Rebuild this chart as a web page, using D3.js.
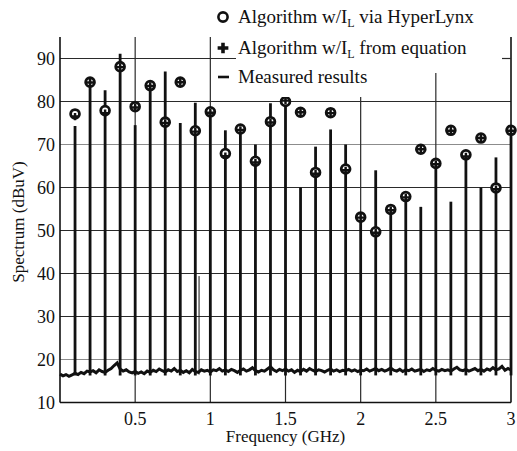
<!DOCTYPE html>
<html>
<head>
<meta charset="utf-8">
<script src="https://cdn.jsdelivr.net/npm/d3@7"></script>
<style>
  body { margin: 0; background: #fff; }
</style>
</head>
<body>
<div id="chart"></div>
<script>
// harmonics of the clock, GHz
let harmonics = [0.1, 0.2, 0.3, 0.4, 0.5, 0.6, 0.7, 0.8, 0.9, 1.0,
  1.1, 1.2, 1.3, 1.4, 1.5, 1.6, 1.7, 1.8, 1.9, 2.0,
  2.1, 2.2, 2.3, 2.4, 2.5, 2.6, 2.7, 2.8, 2.9, 3.0];

// measured peak at each harmonic (dBuV)
let measured = [74.3, 84.5, 82.6, 91.1, 74.5, 83.5, 87.0, 75.0, 79.7, 77.0,
  73.3, 74.0, 70.0, 79.6, 80.0, 60.0, 69.5, 73.5, 70.0, 52.0,
  64.0, 54.5, 57.5, 55.5, 65.5, 56.7, 67.0, 60.0, 67.0, 73.0];

// algorithm w/ IL via HyperLynx (circles)
let viaHyperLynx = [77.1, 84.5, 77.9, 88.1, 78.8, 83.7, 75.2, 84.5, 73.2, 77.6,
  67.9, 73.6, 66.1, 75.3, 80.0, 77.5, 63.5, 77.4, 64.3, 53.1,
  49.7, 54.9, 57.9, 68.9, 65.6, 73.3, 67.6, 71.5, 59.9, 73.3];

// algorithm w/ IL from equation (plus)
let fromEquation = [76.5, 84.4, 77.3, 88.0, 78.6, 83.6, 75.0, 84.5, 73.0, 77.4,
  67.3, 73.4, 65.8, 75.1, 80.2, 77.5, 63.2, 77.3, 64.0, 53.0,
  49.5, 54.7, 57.7, 68.9, 65.4, 73.2, 67.2, 71.5, 59.6, 73.2];

// small spur in the measurement
let spurFreq = [0.925];
let spurLevel = [39.4];

// noise floor, one value every 0.02 GHz from 0 to 3 GHz
let noiseStep = 0.02;
let noiseFloor = [16.6, 16.2, 16.5, 16.1, 16.4, 16.8,
  16.5, 17.0, 16.7, 17.3, 17.1,
  17.4, 16.9, 17.6, 17.2, 17.0,
  17.5, 17.9, 18.6, 19.2, 17.8,
  17.3, 17.6, 17.1, 16.9, 17.2,
  16.8, 17.1, 16.7, 17.3, 17.0,
  17.5, 17.2, 17.8, 17.4, 17.1,
  17.6, 17.3, 17.9, 17.2, 17.5,
  17.0, 17.4, 16.9, 17.7, 17.2,
  17.0, 17.6, 17.3, 17.5, 17.1,
  17.6, 17.4, 17.9, 17.3, 17.6,
  17.2, 17.7, 17.4, 17.0, 17.5,
  17.8, 17.3, 17.6, 18.1, 17.4,
  17.1, 17.5, 17.3, 17.8, 18.3,
  17.6, 17.2, 17.7, 17.4, 17.8,
  17.3, 17.6, 17.0, 17.5, 17.2,
  17.7, 17.3, 17.9, 17.5, 17.2,
  17.6, 17.4, 17.1, 17.5, 17.8,
  17.3, 17.6, 17.2, 17.5, 17.4,
  17.7, 17.3, 17.6, 17.2, 17.5,
  17.4, 17.8, 17.3, 17.6, 17.9,
  17.4, 17.7, 17.3, 17.6, 18.0,
  17.5, 17.3, 17.7, 17.2, 17.6,
  17.4, 17.8, 17.3, 17.5, 17.7,
  17.2, 17.6, 17.4, 17.9, 17.5,
  17.3, 17.7, 17.4, 17.6, 17.3,
  17.8, 18.2, 17.6, 17.4, 17.7,
  17.3, 17.6, 17.9, 17.4, 17.7,
  17.3, 17.8, 17.5, 18.1, 17.6,
  17.8, 18.4, 17.5, 17.9, 17.6];

let xTicks = [0.5, 1, 1.5, 2, 2.5, 3];
let xTickLabels = ['0.5', '1', '1.5', '2', '2.5', '3'];
let yTicks = [10, 20, 30, 40, 50, 60, 70, 80, 90];

let serif = 'Liberation Serif, DejaVu Serif, Times New Roman, Times, serif';

let width = 517;
let height = 451;
let margin = { top: 37, right: 6, bottom: 48.5, left: 60 };
let innerW = width - margin.left - margin.right;
let innerH = height - margin.top - margin.bottom;

let svg = d3.select('#chart')
  .append('svg')
  .attr('width', width)
  .attr('height', height);

let g = svg.append('g')
  .attr('transform', 'translate(' + margin.left + ',' + margin.top + ')');

let x = d3.scaleLinear().domain([0, 3]).range([0, innerW]);
let y = d3.scaleLinear().domain([10, 95]).range([innerH, 0]);

// horizontal grid (20 and 70 print lighter in the original)
g.append('g')
  .selectAll('line')
  .data(yTicks.filter(d => d > 10))
  .enter().append('line')
  .attr('x1', 0)
  .attr('x2', innerW)
  .attr('y1', d => y(d))
  .attr('y2', d => y(d))
  .attr('stroke', d => (d === 20 || d === 70) ? '#8c8c8c' : '#2a2a2a')
  .attr('stroke-width', 1.2);

// vertical grid
g.append('g')
  .selectAll('line')
  .data(xTicks.filter(d => d < 3))
  .enter().append('line')
  .attr('x1', d => x(d))
  .attr('x2', d => x(d))
  .attr('y1', 0)
  .attr('y2', innerH)
  .attr('stroke', '#2a2a2a')
  .attr('stroke-width', 1.2);

// noise floor trace
let noise = noiseFloor.map((v, i) => [i * noiseStep, v]);
g.append('path')
  .datum(noise)
  .attr('fill', 'none')
  .attr('stroke', '#111')
  .attr('stroke-width', 3)
  .attr('stroke-linejoin', 'miter')
  .attr('d', d3.line().x(d => x(d[0])).y(d => y(d[1])));

// measured spectral lines
g.append('g')
  .selectAll('line')
  .data(harmonics)
  .enter().append('line')
  .attr('x1', d => x(d))
  .attr('x2', d => x(d))
  .attr('y1', y(16.3))
  .attr('y2', (d, i) => y(measured[i]))
  .attr('stroke', '#111')
  .attr('stroke-width', 2.8);

g.append('g')
  .selectAll('line')
  .data(spurFreq)
  .enter().append('line')
  .attr('x1', d => x(d))
  .attr('x2', d => x(d))
  .attr('y1', y(16.5))
  .attr('y2', (d, i) => y(spurLevel[i]))
  .attr('stroke', '#111')
  .attr('stroke-width', 1);

// HyperLynx circles
g.append('g')
  .selectAll('circle')
  .data(harmonics)
  .enter().append('circle')
  .attr('cx', d => x(d))
  .attr('cy', (d, i) => y(viaHyperLynx[i]))
  .attr('r', 4.4)
  .attr('fill', '#fff')
  .attr('stroke', '#111')
  .attr('stroke-width', 2.8);

// equation plus marks
let plus = d3.symbol().type(d3.symbolCross).size(30);
g.append('g')
  .selectAll('path')
  .data(harmonics)
  .enter().append('path')
  .attr('d', plus)
  .attr('transform', (d, i) => 'translate(' + x(d) + ',' + y(fromEquation[i]) + ')')
  .attr('fill', '#111');

// legend, printed on white over the grid
let legend = svg.append('g');
legend.append('rect')
  .attr('x', 236).attr('y', 0)
  .attr('width', 266).attr('height', 73)
  .attr('fill', '#fff');
legend.append('rect')
  .attr('x', 236).attr('y', 73)
  .attr('width', 150).attr('height', 24)
  .attr('fill', '#fff');

let rows = [
  { y: 17, pre: 'Algorithm w/I', sub: 'L', post: ' via HyperLynx' },
  { y: 48, pre: 'Algorithm w/I', sub: 'L', post: ' from equation' },
  { y: 77, pre: 'Measured results', sub: '', post: '' }
];

legend.append('circle')
  .attr('cx', 223).attr('cy', rows[0].y)
  .attr('r', 4.6)
  .attr('fill', 'none')
  .attr('stroke', '#111')
  .attr('stroke-width', 2.6);
legend.append('path')
  .attr('d', d3.symbol().type(d3.symbolCross).size(64))
  .attr('transform', 'translate(223,' + rows[1].y + ')')
  .attr('fill', '#111');
legend.append('line')
  .attr('x1', 218).attr('x2', 229)
  .attr('y1', rows[2].y).attr('y2', rows[2].y)
  .attr('stroke', '#111')
  .attr('stroke-width', 2.6);

rows.forEach(r => {
  let t = legend.append('text')
    .attr('x', 238)
    .attr('y', r.y + 6)
    .attr('font-family', serif)
    .attr('font-size', 19)
    .attr('fill', '#111');
  t.append('tspan').text(r.pre);
  if (r.sub) {
    t.append('tspan').attr('font-size', 12).attr('dy', 4).text(r.sub);
    t.append('tspan').attr('dy', -4).text(r.post);
  }
});

// axes frame: left, bottom, right
g.append('line')
  .attr('x1', 0).attr('x2', 0).attr('y1', 0).attr('y2', innerH)
  .attr('stroke', '#111').attr('stroke-width', 1.6);
g.append('line')
  .attr('x1', 0).attr('x2', innerW).attr('y1', innerH).attr('y2', innerH)
  .attr('stroke', '#111').attr('stroke-width', 1.6);
g.append('line')
  .attr('x1', innerW).attr('x2', innerW).attr('y1', 0).attr('y2', innerH)
  .attr('stroke', '#111').attr('stroke-width', 1.6);
// grid stub at 90 on the right, not hidden by the legend
g.append('line')
  .attr('x1', innerW - 11).attr('x2', innerW).attr('y1', y(90)).attr('y2', y(90))
  .attr('stroke', '#2a2a2a').attr('stroke-width', 1.2);

// tick labels
g.append('g')
  .selectAll('text')
  .data(xTicks)
  .enter().append('text')
  .attr('x', d => x(d))
  .attr('y', innerH + 22)
  .attr('text-anchor', 'middle')
  .attr('font-family', serif)
  .attr('font-size', 18)
  .attr('fill', '#111')
  .text((d, i) => xTickLabels[i]);

g.append('g')
  .selectAll('text')
  .data(yTicks)
  .enter().append('text')
  .attr('x', -5)
  .attr('y', d => y(d))
  .attr('dy', '0.35em')
  .attr('text-anchor', 'end')
  .attr('font-family', serif)
  .attr('font-size', 18)
  .attr('fill', '#111')
  .text(d => d);

// axis titles
svg.append('text')
  .attr('x', margin.left + x(1.5))
  .attr('y', 442)
  .attr('text-anchor', 'middle')
  .attr('font-family', serif)
  .attr('font-size', 17)
  .attr('fill', '#111')
  .text('Frequency (GHz)');

svg.append('text')
  .attr('transform', 'translate(24,' + 222 + ') rotate(-90)')
  .attr('text-anchor', 'middle')
  .attr('font-family', serif)
  .attr('font-size', 17)
  .attr('fill', '#111')
  .text('Spectrum (dBuV)');
</script>
</body>
</html>
